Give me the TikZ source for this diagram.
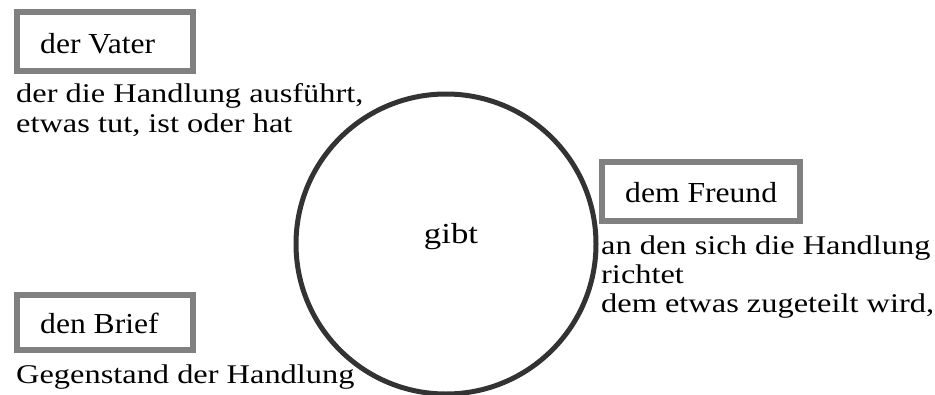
\documentclass[tikz,border=0pt]{standalone}
\usepackage{fontspec}
\setmainfont{Liberation Serif}[FakeStretch=1.2]
\newfontfamily\boxfont{Liberation Serif}[FakeStretch=1.09]
\newfontfamily\verbfont{Liberation Serif}[FakeStretch=1.2]
\begin{document}
\begin{tikzpicture}[x=1pt,y=-1pt,
  rolebox/.style={draw=black!50, line width=6pt, fill=white},
  boxlabel/.style={anchor=base west, inner sep=0pt, font=\boxfont\fontsize{29}{34}\selectfont},
  note/.style={anchor=base west, inner sep=0pt, font=\fontsize{27}{30}\selectfont},
  verb/.style={circle, draw=black!80, line width=5pt, fill=white, minimum size=300pt, inner sep=0pt}]
\useasboundingbox[fill=white] (0,0) rectangle (935,394);

% the verb in the middle
\node[verb] (verb) at (446,244) {};
\node[anchor=base, inner sep=0pt, font=\verbfont\fontsize{29}{34}\selectfont] (gibt) at (451,243) {gibt};

% subject
\draw[rolebox] (17,12) rectangle (193,71);
\node[boxlabel] (vater) at (40,53) {der Vater};
\node[note] (vater1) at (16,102) {der die Handlung ausführt,};
\node[note] (vater2) at (16,132) {etwas tut, ist oder hat};

% dative object
\draw[rolebox] (602,162) rectangle (800,221);
\node[boxlabel] (freund) at (625,202) {dem Freund};
\node[note] (freund1) at (601,254) {an den sich die Handlung};
\node[note] (freund2) at (601,283) {richtet};
\node[note] (freund3) at (601,312) {dem etwas zugeteilt wird,};

% accusative object
\draw[rolebox] (17,295) rectangle (193,350);
\node[boxlabel] (brief) at (40,333) {den Brief};
\node[note] (brief1) at (16,383) {Gegenstand der Handlung};
\end{tikzpicture}
\end{document}
